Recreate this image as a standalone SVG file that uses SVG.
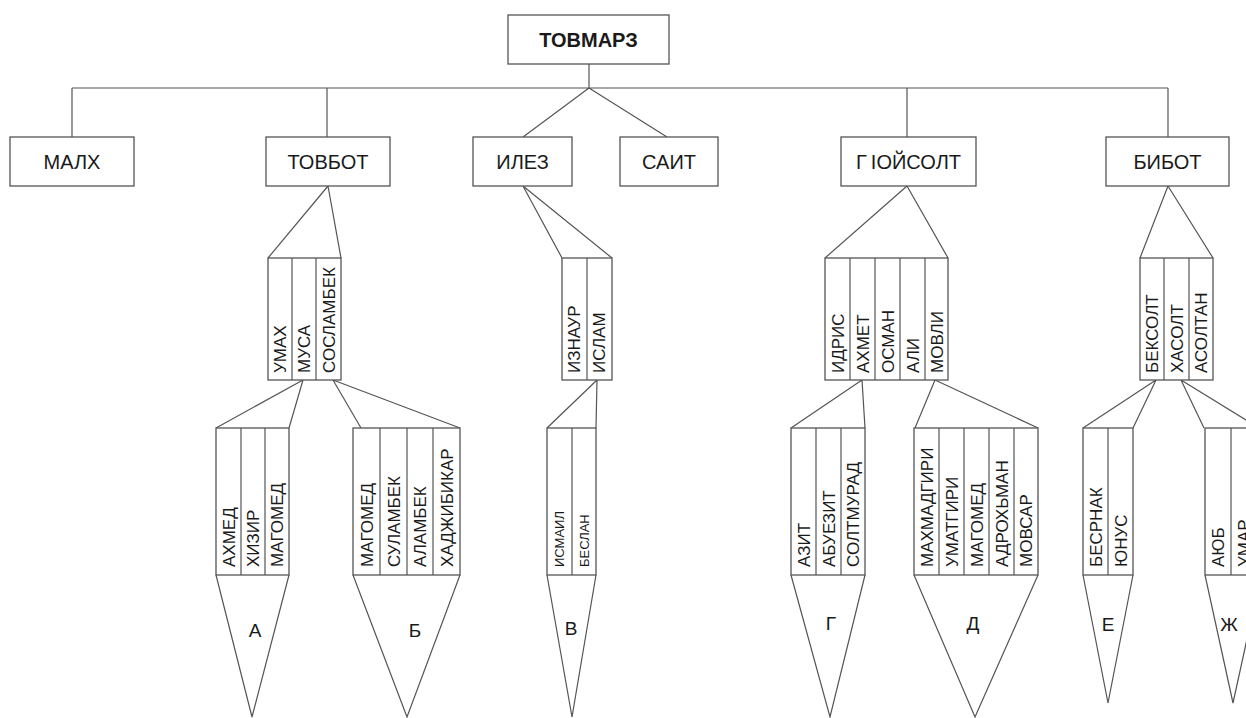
<svg xmlns="http://www.w3.org/2000/svg" width="1246" height="718" viewBox="0 0 1246 718">
<style>
.bx{fill:#fff;stroke:#555;stroke-width:1.3}
.ln{fill:none;stroke:#555;stroke-width:1.2}
.t{font-family:"Liberation Sans",Arial,sans-serif;font-size:20px;fill:#1a1a1a;text-anchor:middle}
.tb{font-weight:bold}
.v{font-family:"Liberation Sans",Arial,sans-serif;font-size:17px;fill:#1a1a1a}
.vs{font-size:13px}
.lbl{font-family:"Liberation Sans",Arial,sans-serif;font-size:19px;fill:#1a1a1a;text-anchor:middle}
</style>
<rect width="1246" height="718" fill="#fff"/>
<g id="connectors">
<path class="ln" d="M589,64V88M72,88H1168M72,88V137M327,88V137M589,88L523,137M589,88L667,137M907,88V137M1168,88V137"/>
<path class="ln" d="M328,186L268,258M328,186L341,258"/>
<path class="ln" d="M523,186L562,258M523,186L612,258"/>
<path class="ln" d="M907,186L825,258M907,186L948,258"/>
<path class="ln" d="M1168,186L1140,258M1168,186L1213,258"/>
<path class="ln" d="M303,380L216,428M303,380L289,428M333,380L361,428M333,380L460,428"/>
<path class="ln" d="M597,380L547,428M597,380L596,428"/>
<path class="ln" d="M862,380L791,428M862,380L865,428M935,380L915,428M935,380L1038,428"/>
<path class="ln" d="M1156,380L1083,428M1156,380L1133,428M1181,380L1204,428M1181,380L1259,428"/>
</g>
<g id="n-tovmarz"><rect class="bx" x="508" y="15" width="161" height="49"/><text class="t tb" x="588.5" y="47">ТОВМАРЗ</text></g>
<g id="n-malh"><rect class="bx" x="10" y="137" width="124" height="49"/><text class="t" x="72" y="168.5">МАЛХ</text></g>
<g id="n-tovbot"><rect class="bx" x="266" y="137" width="124" height="49"/><text class="t" x="328" y="168.5">ТОВБОТ</text></g>
<g id="n-ilez"><rect class="bx" x="473" y="137" width="99" height="49"/><text class="t" x="522.5" y="168.5">ИЛЕЗ</text></g>
<g id="n-sait"><rect class="bx" x="620" y="137" width="98" height="49"/><text class="t" x="669" y="168.5">САИТ</text></g>
<g id="n-goysolt"><rect class="bx" x="841" y="137" width="135" height="49"/><text class="t" x="908.5" y="168.5">Г<tspan dx="4">IОЙСОЛТ</tspan></text></g>
<g id="n-bibot"><rect class="bx" x="1106" y="137" width="123" height="49"/><text class="t" x="1167.5" y="168.5">БИБОТ</text></g>

<g id="n-tovbot-sons">
<rect class="bx" x="268" y="258" width="73" height="122"/>
<path class="ln" d="M292,258V380M316,258V380"/>
<text class="v" transform="translate(286,373) rotate(-90)">УМАХ</text>
<text class="v" transform="translate(310,373) rotate(-90)">МУСА</text>
<text class="v" transform="translate(334.5,373) rotate(-90)">СОСЛАМБЕК</text>
</g>
<g id="n-ilez-sons">
<rect class="bx" x="562" y="258" width="50" height="122"/>
<path class="ln" d="M587,258V380"/>
<text class="v" transform="translate(580,373) rotate(-90)">ИЗНАУР</text>
<text class="v" transform="translate(605,373) rotate(-90)">ИСЛАМ</text>
</g>
<g id="n-goysolt-sons">
<rect class="bx" x="825" y="258" width="123" height="122"/>
<path class="ln" d="M850,258V380M875,258V380M900,258V380M925,258V380"/>
<text class="v" transform="translate(843.5,373) rotate(-90)">ИДРИС</text>
<text class="v" transform="translate(868.5,373) rotate(-90)">АХМЕТ</text>
<text class="v" transform="translate(893.5,373) rotate(-90)">ОСМАН</text>
<text class="v" transform="translate(918.5,373) rotate(-90)">АЛИ</text>
<text class="v" transform="translate(942.5,373) rotate(-90)">МОВЛИ</text>
</g>
<g id="n-bibot-sons">
<rect class="bx" x="1140" y="258" width="73" height="122"/>
<path class="ln" d="M1164,258V380M1189,258V380"/>
<text class="v" transform="translate(1158,373) rotate(-90)">БЕКСОЛТ</text>
<text class="v" transform="translate(1182.5,373) rotate(-90)">ХАСОЛТ</text>
<text class="v" transform="translate(1207,373) rotate(-90)">АСОЛТАН</text>
</g>

<g id="n-a">
<path class="ln" d="M216,575L252,717L289,575"/>
<rect class="bx" x="216" y="428" width="73" height="147"/>
<path class="ln" d="M241,428V575M265,428V575"/>
<text class="v" transform="translate(234.5,567) rotate(-90)">АХМЕД</text>
<text class="v" transform="translate(259,567) rotate(-90)">ХИЗИР</text>
<text class="v" transform="translate(283,567) rotate(-90)">МАГОМЕД</text>
<text class="lbl" x="255" y="637">А</text>
</g>
<g id="n-b">
<path class="ln" d="M353,575L407,717L460,575"/>
<rect class="bx" x="353" y="428" width="107" height="147"/>
<path class="ln" d="M380,428V575M407,428V575M433,428V575"/>
<text class="v" transform="translate(372.5,567) rotate(-90)">МАГОМЕД</text>
<text class="v" transform="translate(399.5,567) rotate(-90)">СУЛАМБЕК</text>
<text class="v" transform="translate(426,567) rotate(-90)">АЛАМБЕК</text>
<text class="v" transform="translate(452.5,567) rotate(-90)">ХАДЖИБИКАР</text>
<text class="lbl" x="415" y="637">Б</text>
</g>
<g id="n-v">
<path class="ln" d="M547,575L572,717L596,575"/>
<rect class="bx" x="547" y="428" width="49" height="147"/>
<path class="ln" d="M572,428V575"/>
<text class="v vs" transform="translate(564.2,567) rotate(-90)">ИСМАИЛ</text>
<text class="v vs" transform="translate(588.7,567) rotate(-90)">БЕСЛАН</text>
<text class="lbl" x="571" y="635">В</text>
</g>
<g id="n-g">
<path class="ln" d="M791,575L830,717L865,575"/>
<rect class="bx" x="791" y="428" width="74" height="147"/>
<path class="ln" d="M816,428V575M841,428V575"/>
<text class="v" transform="translate(809.5,567) rotate(-90)">АЗИТ</text>
<text class="v" transform="translate(834.5,567) rotate(-90)">АБУЕЗИТ</text>
<text class="v" transform="translate(859,567) rotate(-90)">СОЛТМУРАД</text>
<text class="lbl" x="831" y="630">Г</text>
</g>
<g id="n-d">
<path class="ln" d="M914,575L975,717L1038,575"/>
<rect class="bx" x="914" y="428" width="124" height="147"/>
<path class="ln" d="M939,428V575M964,428V575M989,428V575M1014,428V575"/>
<text class="v" transform="translate(932.5,567) rotate(-90)">МАХМАДГИРИ</text>
<text class="v" transform="translate(957.5,567) rotate(-90)">УМАТГИРИ</text>
<text class="v" transform="translate(982.5,567) rotate(-90)">МАГОМЕД</text>
<text class="v" transform="translate(1007.5,567) rotate(-90)">АДРОХЬМАН</text>
<text class="v" transform="translate(1032,567) rotate(-90)">МОВСАР</text>
<text class="lbl" x="973" y="630">Д</text>
</g>
<g id="n-e">
<path class="ln" d="M1083,575L1108,703L1133,575"/>
<rect class="bx" x="1083" y="428" width="50" height="147"/>
<path class="ln" d="M1108,428V575"/>
<text class="v" transform="translate(1101.5,567) rotate(-90)">БЕСРНАК</text>
<text class="v" transform="translate(1126.5,567) rotate(-90)">ЮНУС</text>
<text class="lbl" x="1108" y="631">Е</text>
</g>
<g id="n-zh">
<path class="ln" d="M1205,575L1233,703L1261,575"/>
<rect class="bx" x="1205" y="428" width="56" height="147"/>
<path class="ln" d="M1231,428V575"/>
<text class="v" transform="translate(1224,567) rotate(-90)">АЮБ</text>
<text class="v" transform="translate(1250,567) rotate(-90)">УМАР</text>
<text class="lbl" x="1229" y="631">Ж</text>
</g>
</svg>
